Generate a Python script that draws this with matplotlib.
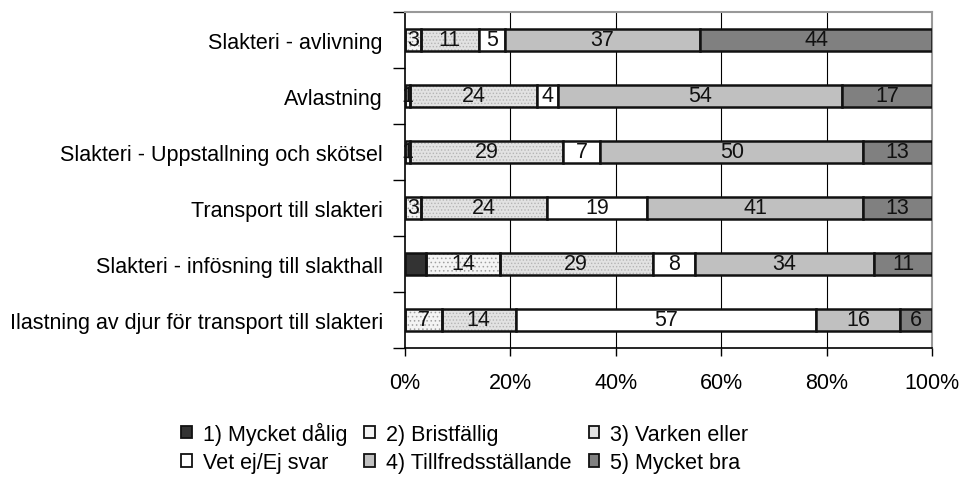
import matplotlib.pyplot as plt
import numpy as np

plt.rcParams['font.family'] = ['Liberation Sans', 'DejaVu Sans']
plt.rcParams['hatch.linewidth'] = 0.6

# data (percent)
categories = ['Slakteri - avlivning', 'Avlastning', 'Slakteri - Uppstallning och skötsel',
              'Transport till slakteri', 'Slakteri - infösning till slakthall',
              'Ilastning av djur för transport till slakteri']
series = ['1) Mycket dålig', '2) Bristfällig', '3) Varken eller',
          'Vet ej/Ej svar', '4) Tillfredsställande', '5) Mycket bra']
mycket_dalig = [0, 0, 0, 0, 4, 0]
bristfallig = [3, 1, 1, 3, 14, 7]
varken = [11, 24, 29, 24, 29, 14]
vet_ej = [5, 4, 7, 19, 8, 57]
tillfreds = [37, 54, 50, 41, 34, 16]
mycket_bra = [44, 17, 13, 13, 11, 6]
values = [mycket_dalig, bristfallig, varken, vet_ej, tillfreds, mycket_bra]

faces = ['#333333', '#f4f4f4', '#e2e2e2', '#ffffff', '#c0c0c0', '#808080']
hatches = [None, '....', '.....', None, None, None]
hatchcol = [None, '#a0a0a0', '#b4b4b4', None, None, None]

FS = 15.5

fig = plt.figure(figsize=(9.6, 4.81), dpi=100)
ax = fig.add_axes([405/960, 1-349/481, 527/960, 336/481])

y = np.arange(len(categories))
left = np.zeros(len(categories))
handles = []
for i, name in enumerate(series):
    v = np.array(values[i], dtype=float)
    if hatches[i]:
        ax.barh(y, v, left=left, height=0.4, color=faces[i], hatch=hatches[i],
                edgecolor=hatchcol[i], linewidth=0, zorder=3)
    ax.barh(y, v, left=left, height=0.4, color=faces[i] if not hatches[i] else 'none',
            edgecolor='#111111', linewidth=1.8, zorder=4)
    h = plt.Rectangle((0, 0), 1, 1, facecolor=faces[i], edgecolor='#111111',
                      linewidth=1.3)
    handles.append(h)
    if i > 0:
        for j in range(len(categories)):
            if v[j] > 0:
                ax.text(left[j] + v[j] / 2, y[j], '%d' % v[j], ha='center', va='center',
                        fontsize=FS, color='#111111', zorder=5)
    left += v

ax.set_xlim(0, 100)
ax.set_ylim(len(categories) - 0.5, -0.5)
ax.set_xticks([0, 20, 40, 60, 80, 100])
ax.set_xticklabels(['0%', '20%', '40%', '60%', '80%', '100%'], fontsize=FS)
ax.set_yticks(y)
ax.set_yticklabels(categories, fontsize=FS)
ax.set_yticks(np.arange(-0.5, len(categories)), minor=True)
ax.tick_params(axis='y', which='major', length=0, pad=16)
ax.tick_params(axis='y', which='minor', length=9, width=1, direction='out')
ax.tick_params(axis='x', length=6, width=1, direction='out', pad=11)
for xv in [20, 40, 60, 80]:
    ax.axvline(xv, color='black', linewidth=0.8, zorder=1)
ax.spines['top'].set_color('#999999')
ax.spines['right'].set_color('#999999')
ax.spines['top'].set_linewidth(1.5)
ax.spines['right'].set_linewidth(1.5)
ax.spines['left'].set_linewidth(1.2)
ax.spines['bottom'].set_linewidth(1.2)

# legend: fill row-wise
order = [0, 3, 1, 4, 2, 5]
fig.legend([handles[k] for k in order], [series[k] for k in order], ncol=3,
           loc='center', bbox_to_anchor=(0.484, 0.068), frameon=False, fontsize=FS,
           handlelength=0.5, handleheight=0.5, handletextpad=0.5, columnspacing=0.8,
           labelspacing=0.35, borderpad=0)

fig.savefig('out.png', dpi=100)
